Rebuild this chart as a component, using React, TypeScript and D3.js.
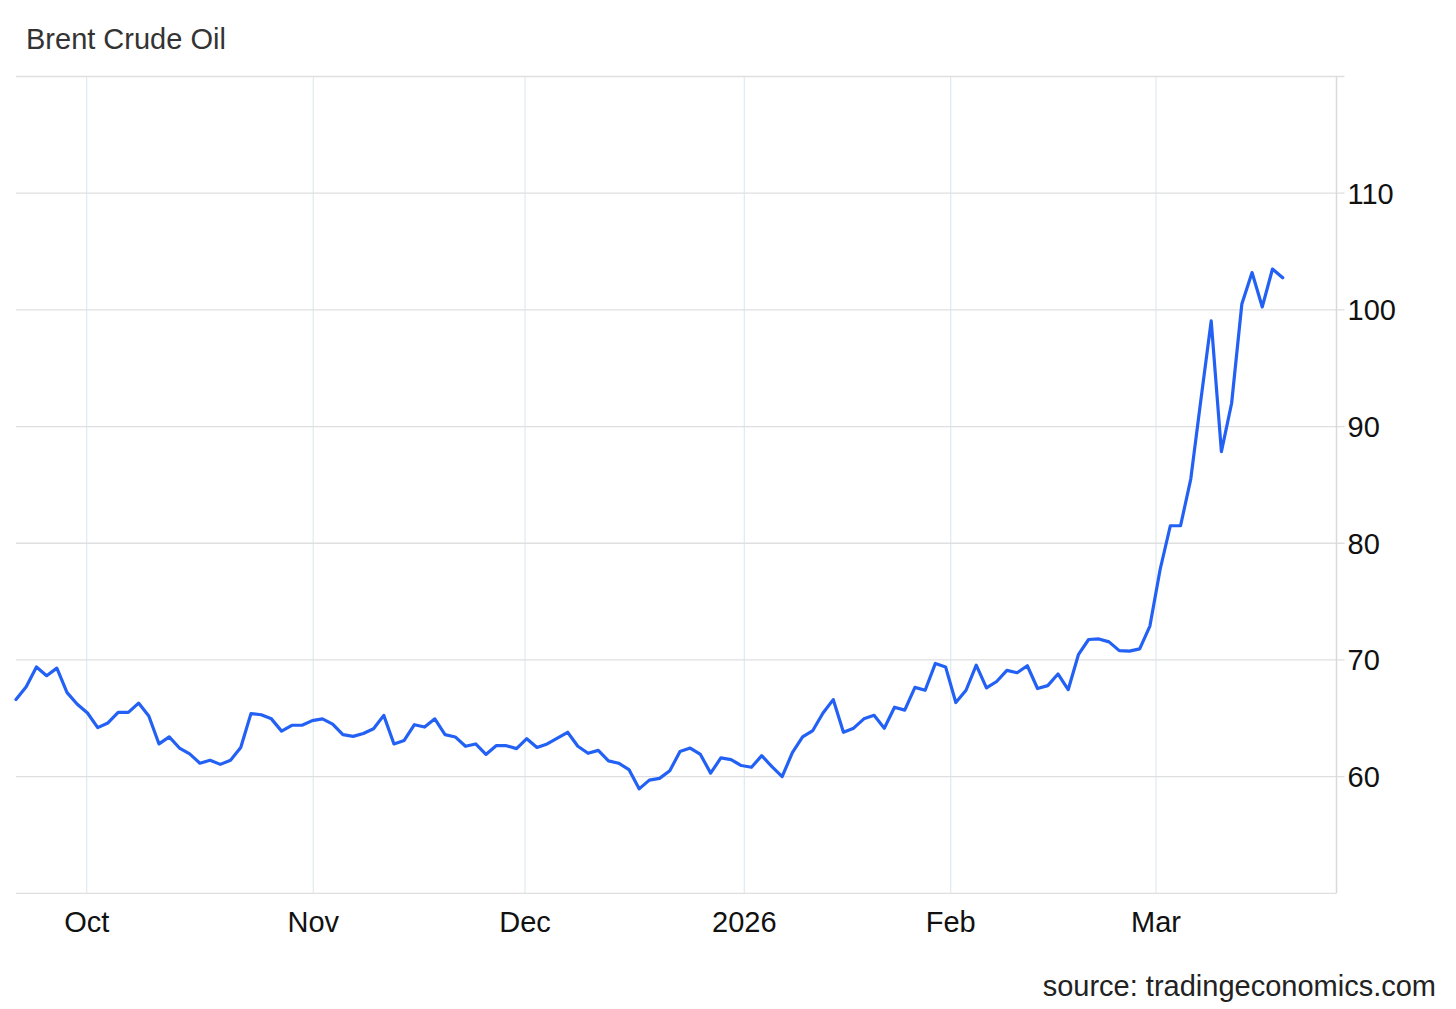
import React from "react";
import * as d3 from "d3";

const title = "Brent Crude Oil";
const source = "source: tradingeconomics.com";

// Daily Brent closes (trading-day sequence)
const prices: number[] = [
  66.6, 67.7, 69.4, 68.65, 69.3, 67.2, 66.2, 65.45, 64.2, 64.6,
  65.5, 65.5, 66.3, 65.2, 62.8, 63.4, 62.45, 61.95, 61.15, 61.4,
  61.05, 61.4, 62.5, 65.4, 65.3, 64.95, 63.9, 64.4, 64.4, 64.8,
  64.95, 64.5, 63.6, 63.45, 63.7, 64.1, 65.25, 62.8, 63.1, 64.45,
  64.25, 64.95, 63.6, 63.4, 62.6, 62.8, 61.9, 62.65, 62.65, 62.4,
  63.25, 62.5, 62.8, 63.3, 63.8, 62.6, 62.0, 62.25, 61.35, 61.15,
  60.6, 58.95, 59.7, 59.85, 60.5, 62.15, 62.45, 61.9, 60.3, 61.6,
  61.45, 60.95, 60.8, 61.8, 60.85, 60.0, 62.05, 63.4, 63.95, 65.45,
  66.6, 63.8, 64.15, 64.95, 65.25, 64.15, 65.95, 65.7, 67.65, 67.4,
  69.7, 69.4, 66.35, 67.4, 69.55, 67.6, 68.15, 69.1, 68.9, 69.5,
  67.55, 67.8, 68.8, 67.45, 70.45, 71.75, 71.8, 71.55, 70.8, 70.75,
  70.95, 72.9, 77.75, 81.5, 81.5, 85.5, 92.35, 99.05, 87.85, 92.0,
  100.5, 103.2, 100.25, 103.5, 102.75,
];

// Month boundaries on the trading-day index axis
const monthLabels: string[] = ["Oct", "Nov", "Dec", "2026", "Feb", "Mar"];
const monthPositions: number[] = [6.92, 29.1, 49.83, 71.3, 91.5, 111.6];

const yTickValues: number[] = [60, 70, 80, 90, 100, 110];
const yGridValues: number[] = [50, 60, 70, 80, 90, 100, 110, 120];

const W = 1456;
const H = 1009;
const left = 16;
const right = 1336.5;
const top = 76.5;
const bottom = 893.3;

export default function App() {
  const x = d3
    .scaleLinear()
    .domain([0, prices.length - 1])
    .range([left, 1282.7]);
  const y = d3.scaleLinear().domain([50, 120]).range([bottom, top]);

  const line = d3
    .line<number>()
    .x((_, i) => x(i))
    .y((d) => y(d))
    .curve(d3.curveLinear);

  const font = "'Liberation Sans', Arial, Helvetica, sans-serif";

  return (
    <svg
      width={W}
      height={H}
      style={{ position: "absolute", left: 0, top: 0, background: "#fff" }}
      fontFamily={font}
    >
      <rect x={0} y={0} width={W} height={H} fill="#fff" />
      <text x={26} y={49} fontSize={29} fill="#333">
        {title}
      </text>

      {/* vertical month gridlines */}
      {monthPositions.map((p, i) => (
        <line
          key={"vg" + i}
          x1={x(p)}
          x2={x(p)}
          y1={top}
          y2={bottom}
          stroke="#e2ecf0"
          strokeWidth={1.3}
        />
      ))}

      {/* horizontal gridlines */}
      {yGridValues.map((v) => (
        <line
          key={"hg" + v}
          x1={left}
          x2={v === 50 ? right : 1344.5}
          y1={y(v)}
          y2={y(v)}
          stroke="#dfdfdf"
          strokeWidth={1.3}
        />
      ))}

      {/* right axis line */}
      <line x1={right} x2={right} y1={top} y2={bottom} stroke="#d9d9d9" strokeWidth={1.5} />

      {/* y labels */}
      {yTickValues.map((v) => (
        <text
          key={"yl" + v}
          x={1347.5}
          y={y(v)}
          dy="0.36em"
          fontSize={29}
          fill="#111"
        >
          {v}
        </text>
      ))}

      {/* x labels */}
      {monthLabels.map((m, i) => (
        <text
          key={"xl" + m}
          x={x(monthPositions[i])}
          y={931.5}
          textAnchor="middle"
          fontSize={29}
          fill="#111"
        >
          {m}
        </text>
      ))}

      <path
        d={line(prices) || ""}
        fill="none"
        stroke="#2361f5"
        strokeWidth={3.2}
        strokeLinejoin="round"
        strokeLinecap="round"
      />

      <text x={1436} y={996} textAnchor="end" fontSize={29} fill="#222">
        {source}
      </text>
    </svg>
  );
}
